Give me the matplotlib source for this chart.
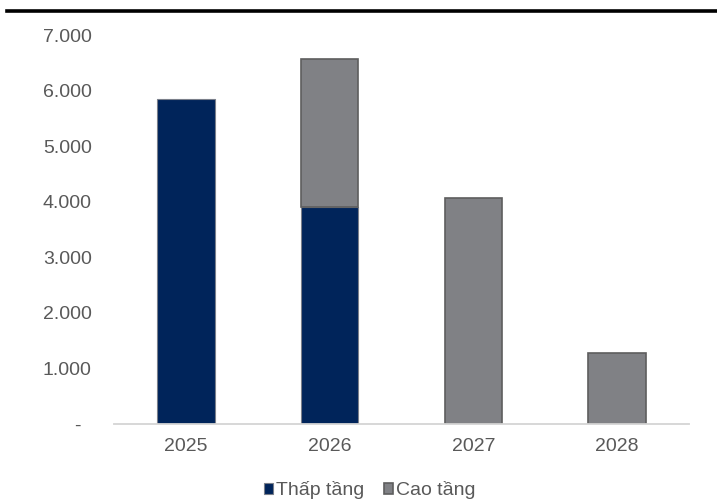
import matplotlib
matplotlib.use('Agg')
import matplotlib.pyplot as plt
import matplotlib.transforms as mtransforms
from matplotlib.lines import Line2D
import numpy as np

plt.rcParams['font.family'] = ['Liberation Sans', 'DejaVu Sans']

years = ['2025', '2026', '2027', '2028']
thap_tang = [5850, 3900, 0, 0]
cao_tang = [0, 2670, 4060, 1280]
y_ticks = [0, 1000, 2000, 3000, 4000, 5000, 6000, 7000]

navy = '#00245a'
grey = '#808185'
text_col = '#595959'

fig = plt.figure(figsize=(7.17, 5.01), dpi=100)
ax = fig.add_axes([0.159, 0.1537, 0.802, 0.7763])

x = np.arange(len(years))
w = 0.40
low = np.array(thap_tang)
high = np.array(cao_tang)

# only draw non-empty segments so zero bars leave no outline
mask_low = low > 0
mask_high = high > 0
ax.bar(x[mask_low], low[mask_low], width=w, color=navy,
       edgecolor='#7a7f8a', linewidth=0.8, label='Thấp tầng', zorder=2)
ax.bar(x[mask_high], high[mask_high], width=w, bottom=low[mask_high], color=grey,
       edgecolor='#5e5e5e', linewidth=1.2, label='Cao tầng', zorder=2)

ax.set_xlim(-0.5, len(years) - 0.5)
ax.set_ylim(0, 7000)
ax.set_xticks(x, labels=years)
labels = ['-' if v == 0 else f'{v:,.0f}'.replace(',', '.') for v in y_ticks]
ax.set_yticks(y_ticks, labels=labels)

for s in ['top', 'right', 'left']:
    ax.spines[s].set_visible(False)
ax.spines['bottom'].set_color('#d4d4d4')
ax.spines['bottom'].set_linewidth(1.3)
ax.tick_params(axis='both', length=0, labelsize=14, colors=text_col)
ax.tick_params(axis='y', pad=16)
ax.tick_params(axis='x', pad=10)

# the zero dash sits a little left of the other labels
zero_lbl = ax.get_yticklabels()[0]
zero_lbl.set_transform(zero_lbl.get_transform() +
                       mtransforms.ScaledTranslation(-11 / 100, 0, fig.dpi_scale_trans))

fig.legend(loc='center', bbox_to_anchor=(370 / 717, 1 - 490 / 501), ncol=2,
           frameon=False, fontsize=14, labelcolor=text_col,
           handlelength=0.48, handleheight=0.48, handletextpad=0.15,
           columnspacing=1.0, borderpad=0)

# heavy rule across the top
fig.add_artist(Line2D([7 / 717, 716 / 717], [1 - 10.5 / 501, 1 - 10.5 / 501],
                      transform=fig.transFigure, color='black', linewidth=2.6))

fig.savefig('out.png', dpi=100)
